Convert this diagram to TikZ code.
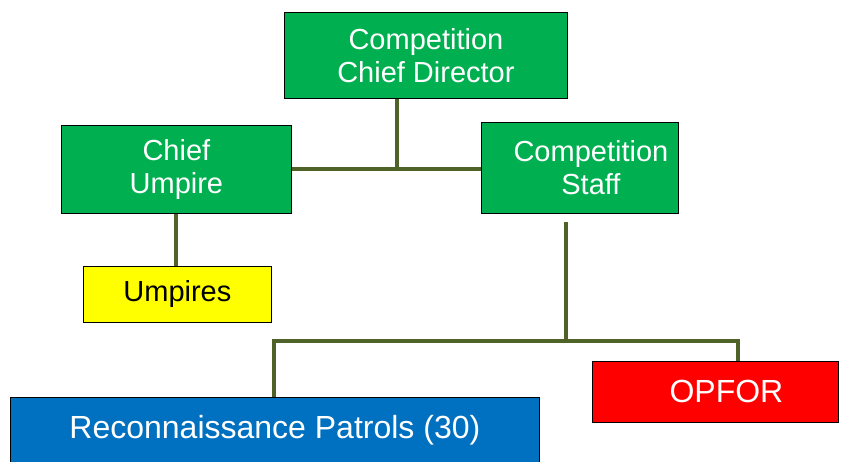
\documentclass[tikz,border=0pt]{standalone}
\usepackage{fontspec}
\setmainfont{Liberation Sans}
\usetikzlibrary{calc}
\definecolor{boxgreen}{HTML}{00B050}
\definecolor{boxblue}{HTML}{0070C0}
\definecolor{boxred}{HTML}{FF0000}
\definecolor{boxyellow}{HTML}{FFFF00}
\definecolor{linkolive}{HTML}{4F6228}
\begin{document}
\begin{tikzpicture}[x=1pt,y=-1pt,
  box/.style={draw=black, line width=0.8pt, anchor=north west, inner sep=0pt,
    align=center, font=\fontsize{29}{33}\selectfont, text=white},
  bigtext/.style={font=\fontsize{32}{38}\selectfont},
  link/.style={draw=linkolive, line width=4pt}]
\useasboundingbox (0,0) rectangle (848,461);
\fill[white] (0,0) rectangle (848,461);
% nodes
\node[box, fill=boxgreen, minimum width=283, minimum height=86] (ccd) at (284,12) {Competition\\Chief Director};
\node[box, fill=boxgreen, minimum width=230, minimum height=88] (cu) at (61,125) {Chief\\Umpire};
\node[box, fill=boxgreen, minimum width=197, minimum height=91] (cs) at (481,122) {\hspace*{22pt}Competition\\\hspace*{22pt}Staff};
\node[box, fill=boxyellow, text=black, minimum width=188, minimum height=56] (ump) at (83,266) {Umpires};
\node[box, bigtext, fill=boxred, minimum width=246, minimum height=61] (opfor) at (592,361) {\hspace*{22pt}OPFOR};
\node[box, bigtext, fill=boxblue, minimum width=529, minimum height=66] (rp) at (10,397) {Reconnaissance Patrols (30)};
% junction coordinates
\coordinate (j1) at (397,169);
\coordinate (s0) at (566,222);
\coordinate (j2) at (566,341);
\coordinate (jl) at (274,341);
\coordinate (jr) at (738,341);
% connectors
\draw[link] (ccd.south -| j1) -- (j1);
\draw[link] (cu.east |- j1) -- (cs.west |- j1);
\draw[link] (cu.south) -- (cu.south |- ump.north);
\draw[link] (s0) -- (j2);
\draw[link] (rp.north -| jl) -- (jl) -- (jr) -- (opfor.north -| jr);
\end{tikzpicture}
\end{document}
